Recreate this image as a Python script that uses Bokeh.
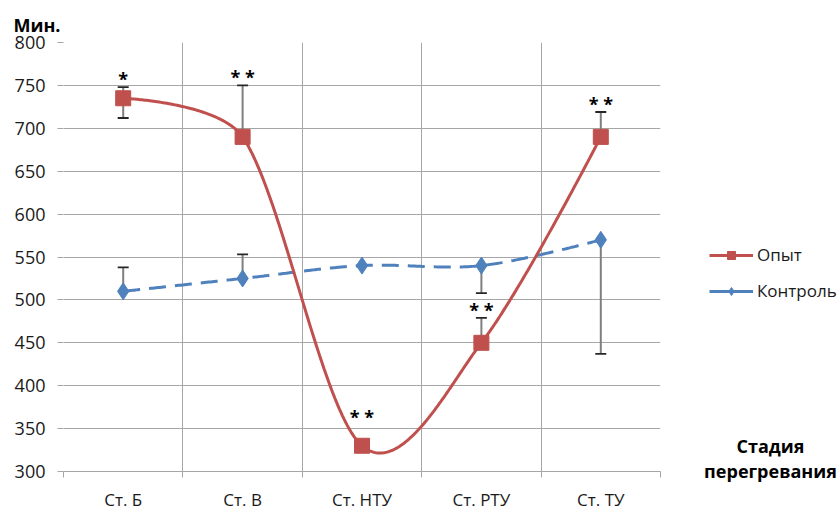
import numpy as np
from bokeh.plotting import figure
from bokeh.layouts import row, column
from bokeh.models import Range1d, FixedTicker, Legend, LegendItem, Label, Title
from bokeh.core.properties import value
from bokeh.embed import file_html
from bokeh.resources import INLINE

categories = ["Ст. Б", "Ст. В", "Ст. НТУ", "Ст. РТУ", "Ст. ТУ"]
opyt = [735, 690, 330, 450, 690]
kontrol = [510, 525, 540, 540, 570]
opyt_err_high = [748, 750, None, 479, 719]
opyt_err_low = [712, None, None, None, None]
kontrol_err_high = [538, 553, None, None, None]
kontrol_err_low = [None, None, None, 508, 437]
signif = ["*", "* *", "* *", "* *", "* *"]
y_ticks = list(range(300, 801, 50))
series_names = ["Опыт", "Контроль"]
y_title = "Мин."
x_title = ["Стадия", "перегревания"]

FONT = "Open Sans"
RED = "#C0504D"
BLUE = "#4F81BD"
GRID = "#A6A6A6"
TXT = "#1a1a1a"

FW, FH = 597, 430
X0, X1, Y0, Y1 = 0, 5, 300, 800
xs = [i + 0.5 for i in range(len(categories))]


def smooth(x, y, n=80):
    # Bezier smoothing computed in screen space (like a spreadsheet's smoothed line)
    kx = FW / (X1 - X0)
    ky = FH / (Y1 - Y0)
    P = np.column_stack([np.asarray(x, float) * kx, np.asarray(y, float) * ky])
    m = len(P)
    arms_out, arms_in = [], []
    for i in range(m):
        if i == 0 or i == m - 1:
            arms_out.append(np.zeros(2)); arms_in.append(np.zeros(2))
            continue
        T = P[i + 1] - P[i - 1]
        L = np.hypot(*T)
        u = T / L
        d_prev = np.hypot(*(P[i] - P[i - 1]))
        d_next = np.hypot(*(P[i + 1] - P[i]))
        arms_out.append(u * min(L / 6, d_next / 3))
        arms_in.append(u * min(L / 6, d_prev / 3))
    out = []
    t = np.linspace(0, 1, n)[:, None]
    for i in range(m - 1):
        p1, p2 = P[i], P[i + 1]
        c1 = p1 + arms_out[i]
        c2 = p2 - arms_in[i + 1]
        seg = ((1 - t) ** 3) * p1 + 3 * ((1 - t) ** 2) * t * c1 + 3 * (1 - t) * t ** 2 * c2 + t ** 3 * p2
        out.append(seg if i == 0 else seg[1:])
    pts = np.vstack(out)
    return pts[:, 0] / kx, pts[:, 1] / ky


p = figure(width=661, height=513, output_backend="svg", toolbar_location=None,
           x_range=Range1d(X0, X1), y_range=Range1d(Y0, Y1),
           min_border_left=63, min_border_right=1, min_border_top=42, min_border_bottom=41)
p.outline_line_color = None
p.background_fill_color = "white"
p.border_fill_color = "white"

p.title = Title(text=y_title, align="left", offset=-50, standoff=11,
                text_font=FONT, text_font_size="18px", text_font_style="bold", text_color="#000000")

# axes
p.yaxis.ticker = FixedTicker(ticks=y_ticks)
p.yaxis.axis_line_color = None
p.yaxis.major_tick_line_color = GRID
p.yaxis.major_tick_out = 6
p.yaxis.major_tick_in = 0
p.yaxis.minor_tick_line_color = None
p.yaxis.major_label_standoff = 12
p.yaxis.major_label_text_font = FONT
p.yaxis.major_label_text_font_size = "18px"
p.yaxis.major_label_text_color = TXT

p.xaxis.ticker = FixedTicker(ticks=xs, minor_ticks=list(range(0, 6)))
p.xaxis.major_label_overrides = {x: c for x, c in zip(xs, categories)}
p.xaxis.major_tick_line_color = None
p.xaxis.major_tick_out = 0
p.xaxis.major_tick_in = 0
p.xaxis.minor_tick_line_color = GRID
p.xaxis.minor_tick_out = 6
p.xaxis.minor_tick_in = 0
p.xaxis.axis_line_color = GRID
p.xaxis.major_label_standoff = 10
p.xaxis.major_label_text_font = FONT
p.xaxis.major_label_text_font_size = "17px"
p.xaxis.major_label_text_color = TXT

p.xgrid.ticker = FixedTicker(ticks=list(range(0, 6)))
p.xgrid.grid_line_color = GRID
p.ygrid.grid_line_color = GRID


def err_segments(vals, ends):
    x0, y0, y1 = [], [], []
    for x, v, e in zip(xs, vals, ends):
        if e is not None:
            x0.append(x); y0.append(v); y1.append(e)
    return x0, y0, y1


for vals, ends in [(opyt, opyt_err_high), (opyt, opyt_err_low),
                   (kontrol, kontrol_err_high), (kontrol, kontrol_err_low)]:
    ex, ey0, ey1 = err_segments(vals, ends)
    p.segment(x0=ex, y0=ey0, x1=ex, y1=ey1, line_color="#7F7F7F", line_width=2)
    p.scatter(x=ex, y=ey1, marker="dash", size=11, line_color="#262626", line_width=1.8)

# series lines
kx_, ky_ = smooth(xs, kontrol)
p.line(kx_, ky_, line_color=BLUE, line_width=3, line_dash="17 9")
p.scatter(xs, kontrol, marker="diamond", size=17, fill_color=BLUE, line_color=BLUE)

ox_, oy_ = smooth(xs, opyt)
p.line(ox_, oy_, line_color=RED, line_width=3)
p.scatter(xs, opyt, marker="square", size=15, fill_color=RED, line_color=RED)

# significance marks
ax1, ay1, at1 = [], [], []
ax2, ay2, at2 = [], [], []
for x, v, e, s in zip(xs, opyt, opyt_err_high, signif):
    if e is not None:
        ax1.append(x); ay1.append(e); at1.append(s)
    else:
        ax2.append(x); ay2.append(v); at2.append(s)
p.text(x=ax1, y=ay1, text=at1, text_font=value(FONT), text_font_size="18px",
       text_font_style="bold", text_align="center", text_baseline="alphabetic",
       y_offset=-8, text_color="#000000")
p.text(x=ax2, y=ay2, text=at2, text_font=value(FONT), text_font_size="18px",
       text_font_style="bold", text_align="center", text_baseline="alphabetic",
       y_offset=-29, text_color="#000000")

# right-hand panel: legend and axis caption
q = figure(width=177, height=513, output_backend="svg", toolbar_location=None,
           x_range=Range1d(0, 1), y_range=Range1d(0, 1), min_border=0,
           x_axis_location=None, y_axis_location=None)
q.outline_line_color = None
q.grid.visible = False
q.background_fill_color = "white"
q.border_fill_color = "white"

lo = q.line(xs, opyt, line_color=RED, line_width=3)
mo = q.scatter(xs, opyt, marker="square", size=15, fill_color=RED, line_color=RED)
lk = q.line(xs, kontrol, line_color=BLUE, line_width=3)
mk = q.scatter(xs, kontrol, marker="diamond", size=17, fill_color=BLUE, line_color=BLUE)

legend = Legend(items=[LegendItem(label=series_names[0], renderers=[lo, mo]),
                       LegendItem(label=series_names[1], renderers=[lk, mk])],
                location=(48, 211), orientation="vertical", margin=0,
                label_text_font=FONT, label_text_font_size="17px", label_text_color=TXT,
                glyph_width=44, glyph_height=20, label_height=20, spacing=13, padding=0,
                border_line_color=None, background_fill_alpha=0, label_standoff=4)
q.add_layout(legend, "center")

q.add_layout(Label(x=109, y=68, x_units="screen", y_units="screen", text=x_title[0],
                   text_font=FONT, text_font_size="18px", text_font_style="bold",
                   text_color="#000000", text_align="center", text_baseline="middle"))
q.add_layout(Label(x=109, y=43, x_units="screen", y_units="screen", text=x_title[1],
                   text_font=FONT, text_font_size="18px", text_font_style="bold",
                   text_color="#000000", text_align="center", text_baseline="middle"))

layout = row(p, column(q), spacing=0)
open("out.html", "w").write(file_html(layout, INLINE))
